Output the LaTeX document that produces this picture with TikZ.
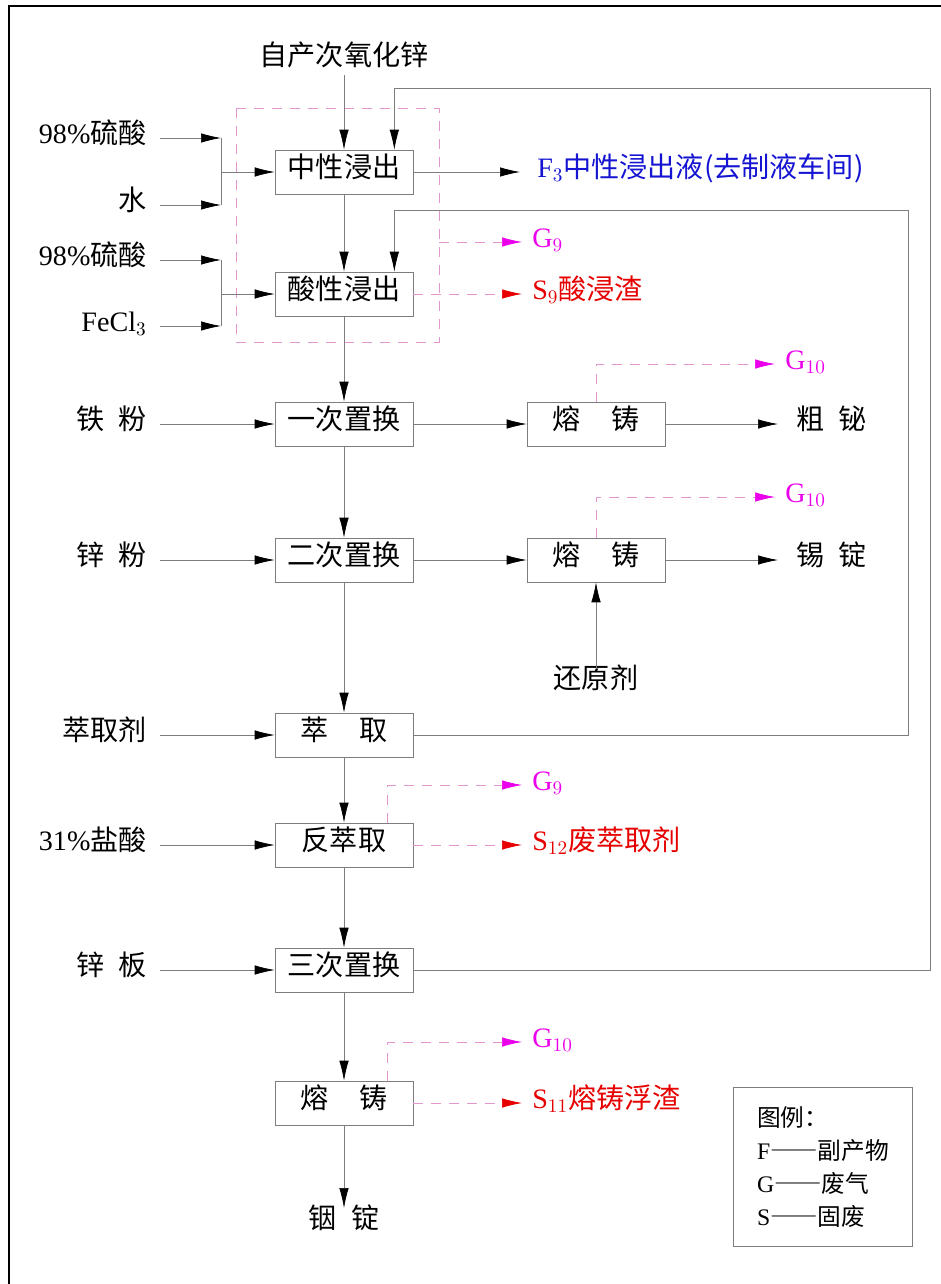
\documentclass[tikz,border=0pt]{standalone}
\usepackage{fontspec}
\setmainfont{Liberation Serif}
\newfontfamily\cjk{Noto Sans CJK SC}
\usetikzlibrary{arrows.meta}
\definecolor{fblue}{RGB}{20,20,210}
\definecolor{gmag}{RGB}{235,0,235}
\definecolor{sred}{RGB}{230,0,0}
\definecolor{pinkl}{RGB}{225,150,205}
\definecolor{linegray}{RGB}{125,125,125}
\tikzset{
  txt/.style={font=\cjk\fontsize{16}{18}\selectfont,text height=0.8em,text depth=0.2em},
  box/.style={txt,draw=linegray,minimum width=2.76cm,minimum height=0.88cm,inner sep=0pt},
  lbl/.style={txt,anchor=east,inner xsep=0.26cm},
  prod/.style={txt,anchor=west,inner xsep=0.2cm},
  arr/.style={draw=linegray,-{Latex[length=0.4cm,width=0.19cm,color=black]}},
  gas/.style={draw=pinkl,dash pattern=on 0.2cm off 0.16cm,-{Latex[length=0.4cm,width=0.19cm,color=gmag]}},
  slag/.style={draw=pinkl,dash pattern=on 0.2cm off 0.16cm,-{Latex[length=0.4cm,width=0.19cm,color=sred]}},
}
\begin{document}
\begin{tikzpicture}[x=0.02cm,y=-0.02cm]
\useasboundingbox (0,0) rectangle (940,1284);
\draw[line width=1.5pt] (9,1290) -- (9,6) -- (945,6);

\node[txt] (src) at (344,60) {自产次氧化锌};
\node[box] (zx) at (344,172) {中性浸出};
\node[box] (sx) at (344,294) {酸性浸出};
\node[box] (zh1) at (344,424) {一次置换};
\node[box] (zh2) at (344,560) {二次置换};
\node[box] (cq) at (344,735) {萃\hspace{1.1em}取};
\node[box] (fc) at (344,845) {反萃取};
\node[box] (zh3) at (344,970) {三次置换};
\node[box] (rz3) at (344,1103) {熔\hspace{1.1em}铸};
\node[txt] (ind) at (344,1223) {铟\hspace{0.5em}锭};
\node[box] (rz1) at (596,424) {熔\hspace{1.1em}铸};
\node[box] (rz2) at (596,560) {熔\hspace{1.1em}铸};
\node[txt] (hy) at (596,683) {还原剂};

\node[lbl] (a1) at (160,138) {\textrm{98\%}硫酸};
\node[lbl] (a2) at (160,205) {水};
\node[lbl] (a3) at (160,260) {\textrm{98\%}硫酸};
\node[lbl] (a4) at (160,326) {\textrm{FeCl}$_3$};
\node[lbl] (tf) at (160,424) {铁\hspace{0.5em}粉};
\node[lbl] (xf) at (160,560) {锌\hspace{0.5em}粉};
\node[lbl] (cqj) at (160,735) {萃取剂};
\node[lbl] (yan) at (160,845) {\textrm{31\%}盐酸};
\node[lbl] (xb) at (160,970) {锌\hspace{0.5em}板};

\node[prod,text=fblue,inner xsep=0.34cm] (f3) at (520,172) {\textrm{F}$_3$中性浸出液(去制液车间)};
\node[prod,text=gmag] (g9a) at (522,242) {\textrm{G}$_9$};
\node[prod,text=sred] (s9) at (522,294) {\textrm{S}$_9$酸浸渣};
\node[prod,text=gmag] (g10a) at (775,364) {\textrm{G}$_{10}$};
\node[prod,inner xsep=0.36cm] (bi) at (778,424) {粗\hspace{0.5em}铋};
\node[prod,text=gmag] (g10b) at (775,497) {\textrm{G}$_{10}$};
\node[prod,inner xsep=0.36cm] (xd) at (778,560) {锡\hspace{0.5em}锭};
\node[prod,text=gmag] (g9b) at (522,785) {\textrm{G}$_9$};
\node[prod,text=sred] (s12) at (522,845) {\textrm{S}$_{12}$废萃取剂};
\node[prod,text=gmag] (g10c) at (522,1042) {\textrm{G}$_{10}$};
\node[prod,text=sred] (s11) at (522,1103) {\textrm{S}$_{11}$熔铸浮渣};

\node[draw=linegray,minimum width=3.58cm,minimum height=3.18cm,align=left,
  font=\cjk\fontsize{13.5}{18.8}\selectfont] (leg) at (823,1167)
  {图例：\\\textrm{F}――副产物\\\textrm{G}――废气\\\textrm{S}――固废};

\coordinate (m1) at (221,172);
\coordinate (m2) at (221,294);
\coordinate (pk) at (439,242);
\coordinate (r1) at (908,210);
\coordinate (r2) at (930,88);

\draw[pinkl,dash pattern=on 0.2cm off 0.16cm] (236,108) rectangle (439,342);

\draw[linegray] (a1.east -| m1) -- (a2.east -| m1);
\draw[linegray] (a3.east -| m2) -- (a4.east -| m2);
\foreach \i/\m in {a1/m1,a2/m1,a3/m2,a4/m2}
  \draw[arr] (\i.east) -- (\i.east -| \m);
\draw[arr] (m1) -- (zx.west);
\draw[arr] (m2) -- (sx.west);
\foreach \i/\j in {tf/zh1,xf/zh2,cqj/cq,yan/fc,xb/zh3,zh1/rz1,zh2/rz2,rz1/bi,rz2/xd,zx/f3}
  \draw[arr] (\i.east) -- (\j.west);
\foreach \i/\j in {src/zx,zx/sx,sx/zh1,zh1/zh2,zh2/cq,cq/fc,fc/zh3,zh3/rz3,rz3/ind}
  \draw[arr] (\i.south) -- (\j.north);
\draw[arr] (hy.north) -- (rz2.south);
\draw[arr] (cq.east) -| (r1) -| ([xshift=-0.38cm]sx.north east);
\draw[arr] (zh3.east) -| (r2) -| ([xshift=-0.38cm]zx.north east);

\draw[gas] (pk) -- (g9a.west);
\draw[gas] (rz1.north) |- (g10a.west);
\draw[gas] (rz2.north) |- (g10b.west);
\draw[gas] ([xshift=-0.52cm]fc.north east) |- (g9b.west);
\draw[gas] ([xshift=-0.52cm]rz3.north east) |- (g10c.west);
\draw[slag] (sx.east) -- (s9.west);
\draw[slag] (fc.east) -- (s12.west);
\draw[slag] (rz3.east) -- (s11.west);
\end{tikzpicture}
\end{document}
